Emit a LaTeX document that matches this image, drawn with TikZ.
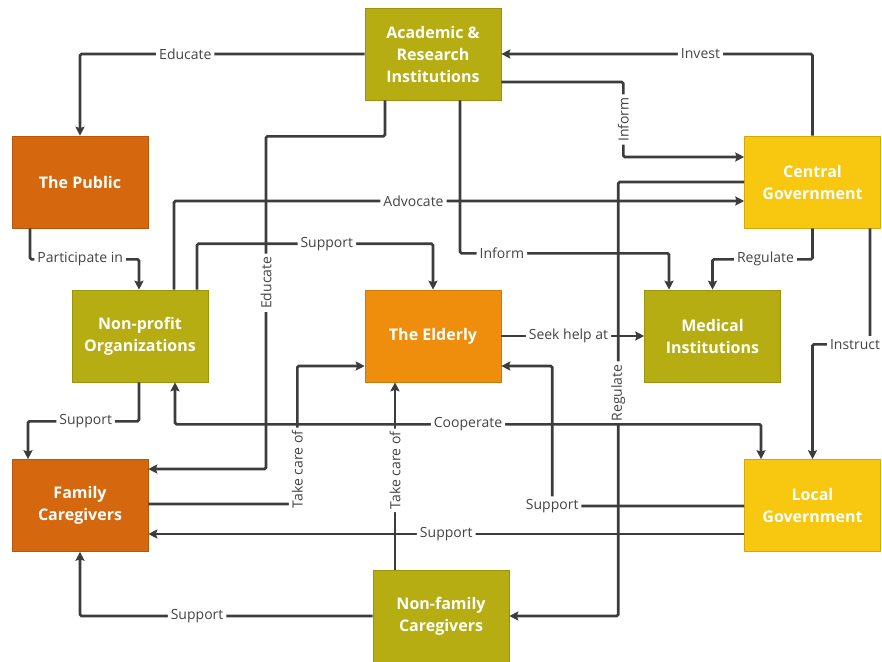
\documentclass[tikz,border=0pt]{standalone}
\usepackage{fontspec}
\setmainfont{Open Sans}
\usetikzlibrary{calc,arrows.meta}
\definecolor{olive}{HTML}{B5AD12}
\definecolor{rust}{HTML}{D5680F}
\definecolor{amber}{HTML}{EF8E0C}
\definecolor{gold}{HTML}{F8C70F}
\definecolor{wire}{HTML}{3C3C3C}
\definecolor{ink}{HTML}{444444}
\begin{document}
\begin{tikzpicture}[x=1pt,y=-1pt,
  box/.style={draw=#1!85!black,line width=0.6pt,fill=#1,minimum width=136pt,minimum height=92pt,
    align=center,text=white,font=\fontsize{16}{22}\selectfont\bfseries,inner sep=2pt},
  link/.style={draw=wire,line width=2.6pt,rounded corners=1.5pt,-{Stealth[length=9pt,width=9pt,inset=1.5pt]}},
  twoway/.style={link,{Stealth[length=9pt,width=9pt,inset=1.5pt]}-{Stealth[length=9pt,width=9pt,inset=1.5pt]}},
  lbl/.style={fill=white,text=ink,font=\fontsize{14}{16}\selectfont,inner sep=3pt},
  vlbl/.style={lbl,rotate=90}]
\useasboundingbox (0,0) rectangle (882,661);

% boxes
\node[box=olive] (acad) at (433,54) {Academic \&\\Research\\Institutions};
\node[box=rust]  (pub)  at (80,182) {The Public};
\node[box=gold]  (cent) at (812.5,182) {Central\\Government};
\node[box=olive] (np)   at (140,336) {Non-profit\\Organizations};
\node[box=amber] (eld)  at (433,336) {The Elderly};
\node[box=olive] (med)  at (712.5,336) {Medical\\Institutions};
\node[box=rust]  (fam)  at (80,505.5) {Family\\Caregivers};
\node[box=gold]  (loc)  at (812.5,505.5) {Local\\Government};
\node[box=olive] (nf)   at (441,616) {Non-family\\Caregivers};

% connectors
\draw[link] (acad.west) -| node[lbl,pos=0.315]{Educate} (pub.north);
\draw[link] (cent.north) |- node[lbl,pos=0.68]{Invest} (acad.east);
\draw[link] ($(acad.east)+(0,28)$) -- ++(122,0) |- node[vlbl,pos=0.25]{Inform} ($(cent.west)+(0,-25)$);
\draw[link] ($(acad.south)+(-48,0)$) -- ++(0,36) -- ++(-119,0) |- node[vlbl,pos=0.22]{Educate} ($(fam.east)+(0,-36.5)$);
\draw[link] ($(np.north)+(34,0)$) |- node[lbl,pos=0.71]{Advocate} ($(cent.west)+(0,19)$);
\draw[link] ($(acad.south)+(27,0)$) -- ++(0,153) -| node[lbl,pos=0.10]{Inform} ($(med.north)+(-43.5,0)$);
\draw[link] (cent.south) -- ++(0,31) -| node[lbl,pos=0.235]{Regulate} (med.north);
\draw[link] (cent.west) -- ++(-126,0) |- node[vlbl,pos=0.243]{Regulate} (nf.east);
\draw[link] ($(cent.south)+(57.5,0)$) -- ++(0,116) -| node[lbl,pos=0.13]{Instruct} (loc.north);
\draw[link] ($(pub.south)+(-50,0)$) -- ++(0,31) -| node[lbl,pos=0.23]{Participate in} ($(np.north)+(-1,0)$);
\draw[link] ($(np.north)+(57,0)$) -- ++(0,-46) -| node[lbl,pos=0.275]{Support} (eld.north);
\draw[link] (eld.east) -- node[lbl,pos=0.47]{Seek help at} (med.west);
\draw[link] ($(np.south)+(-1,0)$) -- ++(0,39) -| node[lbl,pos=0.24]{Support} ($(fam.north)+(-52,0)$);
\draw[twoway] ($(np.south)+(35,0)$) -- ++(0,42) -| node[lbl,pos=0.25]{Cooperate} ($(loc.north)+(-51.5,0)$);
\draw[link] ($(fam.east)+(0,-1.5)$) -- ++(149,0) |- node[vlbl,pos=0.125]{Take care of} ($(eld.west)+(0,30)$);
\draw[link] ($(nf.north)+(-46,0)$) -- node[vlbl,pos=0.53]{Take care of} ($(eld.south)+(-38,0)$);
\draw[link] ($(loc.west)+(0,0.5)$) -- ++(-192,0) |- node[lbl,pos=0]{Support} ($(eld.east)+(0,30)$);
\draw[link] ($(loc.west)+(0,28.5)$) -- node[lbl,pos=0.5]{Support} ($(fam.east)+(0,28.5)$);
\draw[link] (nf.west) -| node[lbl,pos=0.30]{Support} (fam.south);
\end{tikzpicture}
\end{document}
